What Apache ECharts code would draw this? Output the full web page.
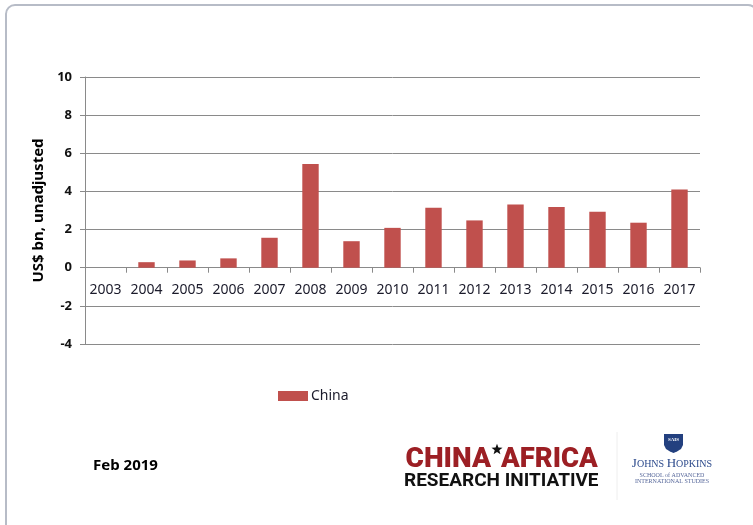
<!DOCTYPE html>
<html>
<head>
<meta charset="utf-8">
<script src="https://cdn.jsdelivr.net/npm/echarts@6/dist/echarts.min.js"></script>
<style>
  html, body { margin: 0; padding: 0; background: #fff; }
  #chart { width: 753px; height: 525px; }
</style>
</head>
<body>
<div id="chart"></div>
<script>
// Annual values, US$ bn (unadjusted)
const years = ['2003', '2004', '2005', '2006', '2007', '2008', '2009', '2010',
  '2011', '2012', '2013', '2014', '2015', '2016', '2017'];
const chinaValues = [0, 0.29, 0.38, 0.49, 1.57, 5.44, 1.39, 2.09,
  3.14, 2.48, 3.31, 3.19, 2.93, 2.36, 4.10];
const yTicks = { min: -4, max: 10, step: 2 };
const seriesName = 'China';
const axisTitle = 'US$ bn, unadjusted';
const dateNote = 'Feb 2019';

const gridGray = '#8a8a8a';
const barRed = '#c0504d';
const textDark = '#1b1b2b';

// plot box in pixels
const gridTop = 77, gridBottom = 181, chartHeight = 525;
const plotHeight = chartHeight - gridTop - gridBottom;
// the category axis sits on the zero line
const zeroOffset = -plotHeight * (0 - yTicks.min) / (yTicks.max - yTicks.min);

// five-pointed star outline for the wordmark
function starPoints(cx, cy, rOuter, rInner) {
  const pts = [];
  for (let i = 0; i < 10; i++) {
    const r = i % 2 === 0 ? rOuter : rInner;
    const a = -Math.PI / 2 + i * Math.PI / 5;
    pts.push([cx + r * Math.cos(a), cy + r * Math.sin(a)]);
  }
  return pts;
}

const chart = echarts.init(document.getElementById('chart'));

chart.setOption({
  backgroundColor: '#ffffff',
  animation: false,
  grid: { left: 85, right: 53, top: gridTop, bottom: gridBottom, containLabel: false },
  legend: {
    data: [seriesName],
    left: 278,
    top: 389,
    padding: 0,
    itemWidth: 30,
    itemHeight: 10,
    itemGap: 4,
    icon: 'rect',
    textStyle: { fontFamily: 'Noto Sans', fontSize: 14, color: textDark, padding: [0, 0, 0, -2] }
  },
  xAxis: {
    type: 'category',
    data: years,
    position: 'bottom',
    offset: zeroOffset,
    axisLine: { onZero: false, lineStyle: { color: gridGray, width: 1 } },
    axisTick: { show: true, length: 5, interval: 0, lineStyle: { color: gridGray } },
    axisLabel: {
      interval: 0,
      margin: 15,
      fontFamily: 'Noto Sans',
      fontSize: 14,
      color: textDark
    },
    splitLine: { show: false }
  },
  yAxis: {
    type: 'value',
    min: yTicks.min,
    max: yTicks.max,
    interval: yTicks.step,
    name: axisTitle,
    nameLocation: 'middle',
    nameRotate: 90,
    nameGap: 33,
    nameTextStyle: { fontFamily: 'Noto Sans', fontSize: 15, fontWeight: 'bold', color: '#000' },
    axisLine: { show: true, lineStyle: { color: gridGray, width: 1 } },
    axisTick: { show: true, length: 5, lineStyle: { color: gridGray } },
    axisLabel: {
      margin: 13,
      fontFamily: 'Noto Sans',
      fontSize: 13,
      fontWeight: 'bold',
      color: '#111'
    },
    splitLine: { show: true, lineStyle: { color: gridGray, width: 1 } }
  },
  series: [{
    name: seriesName,
    type: 'bar',
    data: chinaValues,
    barWidth: '40%',
    itemStyle: { color: barRed }
  }],
  graphic: [
    // outer rounded frame
    {
      type: 'rect',
      shape: { x: 6, y: 5, width: 751, height: 530, r: 9 },
      style: { fill: 'none', stroke: '#b7bcc7', lineWidth: 2 },
      silent: true
    },
    {
      type: 'text',
      x: 93, y: 466,
      style: { text: dateNote, font: 'bold 15px "Noto Sans"', fill: '#000', verticalAlign: 'middle' }
    },
    // CHINA * AFRICA wordmark
    {
      type: 'text',
      x: 491, y: 460,
      style: { text: 'CHINA', font: '900 28px Roboto', fill: '#9c1f24', align: 'right', verticalAlign: 'middle' }
    },
    {
      type: 'polygon',
      shape: { points: starPoints(497, 449.5, 5.8, 2.4) },
      style: { fill: '#111' }
    },
    {
      type: 'text',
      x: 501, y: 460,
      style: { text: 'AFRICA', font: '900 27.5px Roboto', fill: '#9c1f24', verticalAlign: 'middle' }
    },
    {
      type: 'text',
      x: 404, y: 481,
      style: { text: 'RESEARCH INITIATIVE', font: 'bold 19px Roboto', fill: '#111', verticalAlign: 'middle' }
    },
    // separator
    {
      type: 'line',
      shape: { x1: 617, y1: 432, x2: 617, y2: 500 },
      style: { stroke: '#eeeeee', lineWidth: 1 }
    },
    // SAIS shield
    {
      type: 'polygon',
      shape: {
        points: [[664, 434], [683, 434], [683, 445], [681, 449], [677, 451.5], [673.5, 453],
          [670, 451.5], [666, 449], [664, 445]]
      },
      style: { fill: '#23407f' }
    },
    {
      type: 'text',
      x: 673.5, y: 440,
      style: { text: 'SAIS', font: 'bold 5px "Liberation Serif"', fill: '#ffffff', align: 'center', verticalAlign: 'middle' }
    },
    {
      type: 'text',
      x: 672, y: 464,
      style: {
        text: '{b|J}{s|OHNS }{b|H}{s|OPKINS}',
        align: 'center',
        verticalAlign: 'middle',
        rich: {
          b: { fontFamily: 'Liberation Serif', fontSize: 13, fill: '#2c4a8c' },
          s: { fontFamily: 'Liberation Serif', fontSize: 10, fill: '#2c4a8c' }
        }
      }
    },
    {
      type: 'text',
      x: 672, y: 475,
      style: { text: 'SCHOOL of ADVANCED', font: '6px "Liberation Serif"', fill: '#56679a', align: 'center', verticalAlign: 'middle' }
    },
    {
      type: 'text',
      x: 672, y: 481.5,
      style: { text: 'INTERNATIONAL STUDIES', font: '6px "Liberation Serif"', fill: '#56679a', align: 'center', verticalAlign: 'middle' }
    }
  ]
});
</script>
</body>
</html>
